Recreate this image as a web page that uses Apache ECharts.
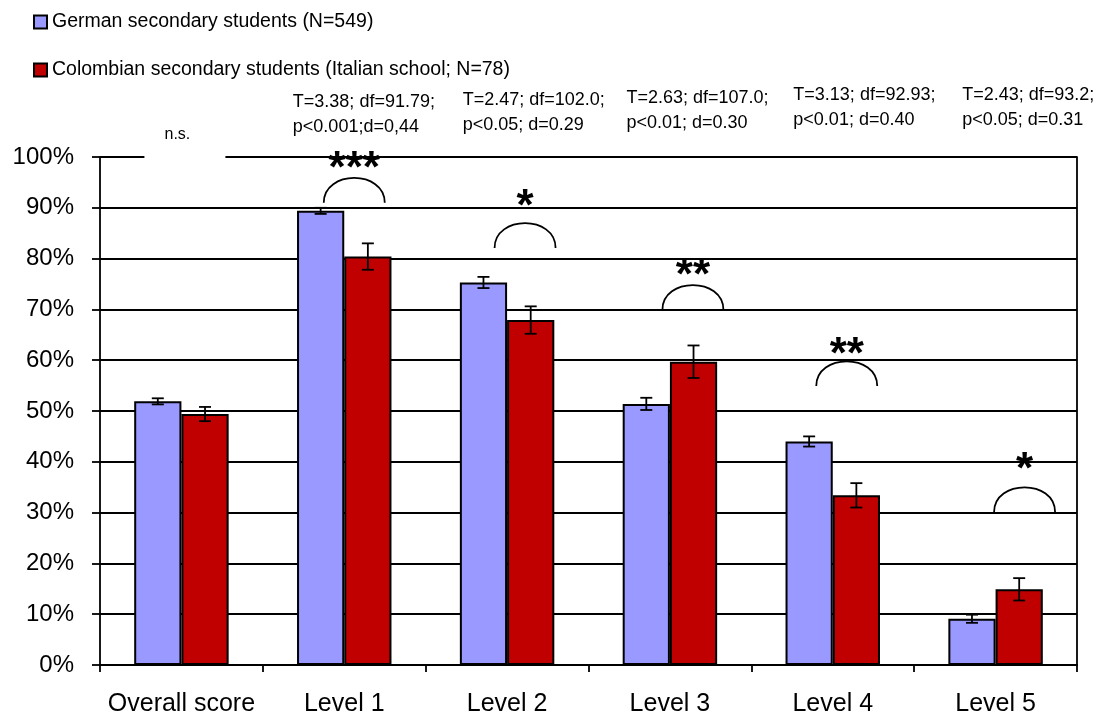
<!DOCTYPE html>
<html>
<head>
<meta charset="utf-8">
<script src="https://cdn.jsdelivr.net/npm/echarts@6/dist/echarts.min.js"></script>
<style>
html, body { margin: 0; padding: 0; background: #fff; }
#chart { width: 1099px; height: 717px; }
</style>
</head>
<body>
<div id="chart"></div>
<script>
// data (percent correct, +/- standard error)
var categories = ['Overall score', 'Level 1', 'Level 2', 'Level 3', 'Level 4', 'Level 5'];
var germanValues = [51.9, 89.4, 75.3, 51.4, 44.0, 9.1];
var germanErrors = [0.6, 0.6, 1.1, 1.2, 1.0, 0.8];
var colombianValues = [49.4, 80.4, 67.9, 59.7, 33.4, 14.9];
var colombianErrors = [1.4, 2.6, 2.7, 3.2, 2.4, 2.2];
var statLines = [
    'n.s.',
    'T=3.38; df=91.79;\np<0.001;d=0,44',
    'T=2.47; df=102.0;\np<0.05; d=0.29',
    'T=2.63; df=107.0;\np<0.01; d=0.30',
    'T=3.13; df=92.93;\np<0.01; d=0.40',
    'T=2.43; df=93.2;\np<0.05; d=0.31'
];
var sigStars = ['', '***', '*', '**', '**', '*'];
var sigArcBase = [null, 91.0, 82.1, 69.9, 54.9, 30.1];

// hand placement of the annotations (pixels)
var arcShift = [0, 10, 18, 23, 14, 29];
var starLift = [0, 18, 25, 18, 15, 26];
var statShift = [0, 30, 37, 38, 42, 48];
var statTop = [0, -55, -57, -59, -62, -62];

var FONT = '"Liberation Sans", Arial, sans-serif';
var BAR_FRAC = 0.29;

var myChart = echarts.init(document.getElementById('chart'));

function errorBars(side) {
    return function (params, api) {
        var i = api.value(0), v = api.value(1), e = api.value(2);
        var band = api.size([1, 0])[0];
        var x = api.coord([i, v])[0] + side * band * BAR_FRAC / 2;
        var yHi = api.coord([i, v + e])[1];
        var yLo = api.coord([i, v - e])[1];
        var st = { stroke: '#000', lineWidth: 1.8 };
        return {
            type: 'group',
            children: [
                { type: 'line', shape: { x1: x, y1: yHi, x2: x, y2: yLo }, style: st },
                { type: 'line', shape: { x1: x - 6, y1: yHi, x2: x + 6, y2: yHi }, style: st },
                { type: 'line', shape: { x1: x - 6, y1: yLo, x2: x + 6, y2: yLo }, style: st }
            ]
        };
    };
}

function annotations(params, api) {
    var i = api.value(0);
    var top = api.coord([i, 100]);
    var band = api.size([1, 0])[0];
    if (i === 0) {
        return {
            type: 'group',
            children: [
                { type: 'rect', shape: { x: top[0] - 37, y: top[1] - 3, width: 81, height: 6 }, style: { fill: '#fff' } },
                { type: 'text', x: top[0] - 4, y: top[1] - 22,
                  style: { text: statLines[0], font: '16px ' + FONT, fill: '#000', align: 'center', verticalAlign: 'middle' } }
            ]
        };
    }
    var base = api.coord([i, sigArcBase[i]]);
    var cx = base[0] + arcShift[i];
    var yb = base[1];
    var rx = 30.5;
    var arcTop = yb - 25;
    return {
        type: 'group',
        children: [
            { type: 'bezierCurve',
              shape: { x1: cx - rx, y1: yb, x2: cx + rx, y2: yb, cpx1: cx - rx, cpy1: yb - 33, cpx2: cx + rx, cpy2: yb - 33 },
              style: { stroke: '#000', lineWidth: 1.8, fill: null } },
            { type: 'text', x: cx, y: arcTop - starLift[i] + 10,
              style: { text: sigStars[i], font: 'bold 44px ' + FONT, fill: '#000', align: 'center', verticalAlign: 'middle' } },
            { type: 'text', x: top[0] - band / 2 + statShift[i], y: top[1] + statTop[i] - 12,
              style: { text: statLines[i], font: '18px ' + FONT, fill: '#000', align: 'left', verticalAlign: 'top', lineHeight: 24.5 } }
        ]
    };
}

var option = {
    backgroundColor: '#fff',
    animation: false,
    legend: {
        orient: 'vertical',
        left: 28,
        top: 7,
        itemWidth: 13,
        itemHeight: 13,
        itemGap: 28,
        icon: 'rect',
        data: ['German secondary students (N=549)', 'Colombian secondary students (Italian school; N=78)'],
        textStyle: { fontFamily: FONT, fontSize: 19.5, lineHeight: 20, color: '#000' }
    },
    grid: { left: 100, right: 22, top: 157, bottom: 51 },
    xAxis: {
        type: 'category',
        data: categories,
        axisLine: { lineStyle: { color: '#000', width: 1.8 } },
        axisTick: { show: true, length: 7, interval: 0, lineStyle: { color: '#000', width: 1.8 } },
        axisLabel: { fontFamily: FONT, fontSize: 25, color: '#000', margin: 27, interval: 0 }
    },
    yAxis: [{
        type: 'value',
        min: 0,
        max: 100,
        interval: 10,
        axisLine: { show: true, lineStyle: { color: '#000', width: 1.8 } },
        axisTick: { show: true, length: 8, lineStyle: { color: '#000', width: 1.8 } },
        axisLabel: { formatter: '{value}%', fontFamily: FONT, fontSize: 24, color: '#000', margin: 26 },
        splitLine: { lineStyle: { color: '#000', width: 1.8 } }
    }, {
        type: 'value',
        min: 0,
        max: 100,
        position: 'right',
        axisLine: { show: true, lineStyle: { color: '#000', width: 1.8 } },
        axisTick: { show: false },
        axisLabel: { show: false },
        splitLine: { show: false }
    }],
    series: [
        {
            name: 'German secondary students (N=549)',
            type: 'bar',
            data: germanValues,
            barWidth: (BAR_FRAC * 100) + '%',
            barGap: '0%',
            itemStyle: { color: '#9999FF', borderColor: '#000', borderWidth: 2 }
        },
        {
            name: 'Colombian secondary students (Italian school; N=78)',
            type: 'bar',
            data: colombianValues,
            barWidth: (BAR_FRAC * 100) + '%',
            barGap: '0%',
            itemStyle: { color: '#C00000', borderColor: '#000', borderWidth: 2 }
        },
        {
            name: 'germanErr',
            type: 'custom',
            renderItem: errorBars(-1),
            data: germanValues.map(function (v, i) { return [i, v, germanErrors[i]]; }),
            z: 5
        },
        {
            name: 'colombianErr',
            type: 'custom',
            renderItem: errorBars(1),
            data: colombianValues.map(function (v, i) { return [i, v, colombianErrors[i]]; }),
            z: 5
        },
        {
            name: 'annotations',
            type: 'custom',
            renderItem: annotations,
            data: categories.map(function (c, i) { return [i, 100]; }),
            z: 6
        }
    ]
};
myChart.setOption(option);
</script>
</body>
</html>
